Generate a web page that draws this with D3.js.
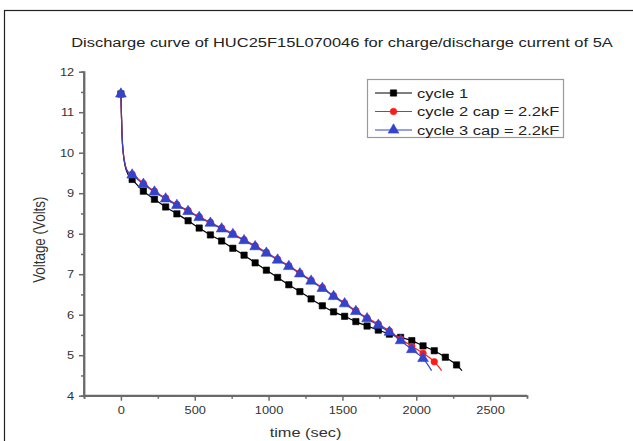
<!DOCTYPE html>
<html>
<head>
<meta charset="utf-8">
<script src="https://cdn.jsdelivr.net/npm/d3@7"></script>
<style>
  html, body { margin: 0; padding: 0; background: #fff; }
  svg { display: block; }
  text { font-family: "Liberation Sans", Arial, sans-serif; }
</style>
</head>
<body>
<svg id="chart" width="633" height="441"></svg>
<script>
// ---- data ----
const title = "Discharge curve of HUC25F15L070046 for charge/discharge current of 5A";
const xLabel = "time (sec)";
const yLabel = "Voltage (Volts)";
const xTicks = [0, 500, 1000, 1500, 2000, 2500];
const yTicks = [4, 5, 6, 7, 8, 9, 10, 11, 12];
const seriesNames = ["cycle 1", "cycle 2 cap = 2.2kF", "cycle 3 cap = 2.2kF"];

// marker sample times (sec)
const markerTimes = [0, 76, 152, 227, 303, 379, 455, 530, 606, 682, 758, 834, 909, 985,
  1061, 1137, 1212, 1288, 1364, 1440, 1515, 1591, 1667, 1743, 1818, 1894, 1970, 2046, 2122, 2197, 2273];

// cycle 1 (black squares)
const cycle1V = [11.45, 9.34, 9.05, 8.85, 8.66, 8.49, 8.32, 8.14, 7.97, 7.82, 7.64, 7.47, 7.28, 7.10,
  6.92, 6.74, 6.57, 6.39, 6.22, 6.07, 5.96, 5.83, 5.72, 5.62, 5.52, 5.44, 5.36, 5.23, 5.11, 4.95, 4.76];
// cycle 2 (red circles)
const cycle2V = [11.45, 9.47, 9.24, 9.05, 8.88, 8.72, 8.57, 8.42, 8.28, 8.14, 8.00, 7.85, 7.70, 7.54,
  7.37, 7.21, 7.03, 6.85, 6.67, 6.47, 6.29, 6.10, 5.92, 5.77, 5.60, 5.40, 5.22, 5.05, 4.84];
// cycle 3 (blue triangles)
const cycle3V = [11.45, 9.45, 9.22, 9.03, 8.86, 8.70, 8.55, 8.40, 8.26, 8.12, 7.98, 7.83, 7.68, 7.52,
  7.35, 7.19, 7.01, 6.83, 6.65, 6.45, 6.27, 6.08, 5.90, 5.74, 5.57, 5.36, 5.14, 4.92];

// line-only points (between markers): steep initial drop and tail after the last marker
const dropT = [3, 8, 16, 32, 50];
const cycle1DropV = [11.0, 10.4, 9.98, 9.62, 9.45];
const cycle2DropV = [11.0, 10.4, 10.0, 9.66, 9.52];
const cycle3DropV = [11.0, 10.4, 10.0, 9.65, 9.51];
const tailT = [2310, 2172, 2104];
const tailV = [4.62, 4.62, 4.62];

const colors = ["#000000", "#ff1a1a", "#3344cc"];

// ---- build series ----
function build(vals, dropV, tT, tV) {
  const markers = vals.map((v, i) => ({ t: markerTimes[i], v }));
  const line = [markers[0]]
    .concat(dropT.map((t, i) => ({ t, v: dropV[i] })))
    .concat(markers.slice(1))
    .concat([{ t: tT, v: tV }]);
  return { markers, line };
}
const series = [
  build(cycle1V, cycle1DropV, tailT[0], tailV[0]),
  build(cycle2V, cycle2DropV, tailT[1], tailV[1]),
  build(cycle3V, cycle3DropV, tailT[2], tailV[2])
];

// ---- layout ----
const svg = d3.select("#chart");
const SX = 1.22; // horizontal stretch of the text in the picture
const x = d3.scaleLinear().domain([-250, 2750]).range([84, 527]);
const y = d3.scaleLinear().domain([4, 12]).range([395.7, 71.7]);

function stretched(parent, px, py, size, str, anchor) {
  return parent.append("text")
    .attr("transform", `translate(${px},${py}) scale(${SX},1)`)
    .attr("text-anchor", anchor || "start")
    .attr("font-size", size).attr("fill", "#222").text(str);
}

// outer frame (top and left visible)
svg.append("rect").attr("x", 4.5).attr("y", 10.5).attr("width", 700).attr("height", 500)
  .attr("fill", "none").attr("stroke", "#222").attr("stroke-width", 1.2);

// title
stretched(svg, 342, 47, 13.5, title, "middle");

const axisColor = "#6a6a6a";
// x axis
const gx = svg.append("g").attr("transform", `translate(0,${y(4)})`)
  .call(d3.axisBottom(x).tickValues(xTicks).tickSize(5).tickPadding(6).tickFormat(d3.format("d")));
gx.append("g").call(d3.axisBottom(x).tickValues([-250, 250, 750, 1250, 1750, 2250]).tickSize(3).tickFormat(""));
// y axis
const gy = svg.append("g").attr("transform", `translate(${x(-250)},0)`)
  .call(d3.axisLeft(y).tickValues(yTicks).tickSize(5).tickPadding(3).tickFormat(d3.format("d")));
gy.append("g").call(d3.axisLeft(y).tickValues([4.5, 5.5, 6.5, 7.5, 8.5, 9.5, 10.5, 11.5]).tickSize(3).tickFormat(""));

svg.selectAll(".domain").attr("stroke", axisColor).attr("stroke-width", 1.8);
svg.selectAll(".tick line").attr("stroke", axisColor).attr("stroke-width", 1.5);
svg.selectAll(".tick text").attr("font-size", 10.5).attr("fill", "#333")
  .attr("font-family", "'Liberation Sans', Arial, sans-serif")
  .attr("transform", `scale(${SX},1)`);
gx.select(".domain").attr("d", `M${x(-250)},0H${x(2750)}`);
gy.select(".domain").attr("d", `M0,${y(4)}V${y(12)}`);

// axis labels
stretched(svg, (x(-250) + x(2750)) / 2, 437, 13.4, xLabel, "middle").attr("fill", "#333");
svg.append("text").attr("transform", `translate(45,${(y(4) + y(12)) / 2 + 6}) rotate(-90) scale(1,${SX})`)
  .attr("text-anchor", "middle").attr("font-size", 13.4).attr("fill", "#333").text(yLabel);

// ---- marks ----
const line = d3.line().x(d => x(d.t)).y(d => y(d.v)).curve(d3.curveMonotoneX);
const sym = [d3.symbolSquare, d3.symbolCircle, d3.symbolTriangle];
const symSize = [40, 34, 50];

function drawMarker(g, k, cx, cy) {
  g.append("path").attr("d", d3.symbol().type(sym[k]).size(symSize[k])())
    .attr("transform", `translate(${cx},${cy})`)
    .attr("fill", colors[k]).attr("stroke", colors[k]).attr("stroke-width", 0.6);
}

series.forEach((s, k) => {
  const g = svg.append("g");
  g.append("path").datum(s.line).attr("d", line).attr("fill", "none")
    .attr("stroke", colors[k]).attr("stroke-width", 1.2);
  s.markers.forEach(m => drawMarker(g, k, x(m.t), y(m.v)));
});

// ---- legend ----
const lg = svg.append("g");
lg.append("rect").attr("x", 367.5).attr("y", 79.5).attr("width", 196).attr("height", 58)
  .attr("fill", "#fff").attr("stroke", "#999").attr("stroke-width", 1.2);
seriesNames.forEach((name, k) => {
  const yy = 93 + k * 18.5;
  lg.append("line").attr("x1", 375).attr("x2", 412).attr("y1", yy).attr("y2", yy)
    .attr("stroke", colors[k]).attr("stroke-width", 1.2);
  drawMarker(lg, k, 393.5, yy);
  stretched(lg, 417, yy + 4.8, 13.5, name);
});
</script>
</body>
</html>
